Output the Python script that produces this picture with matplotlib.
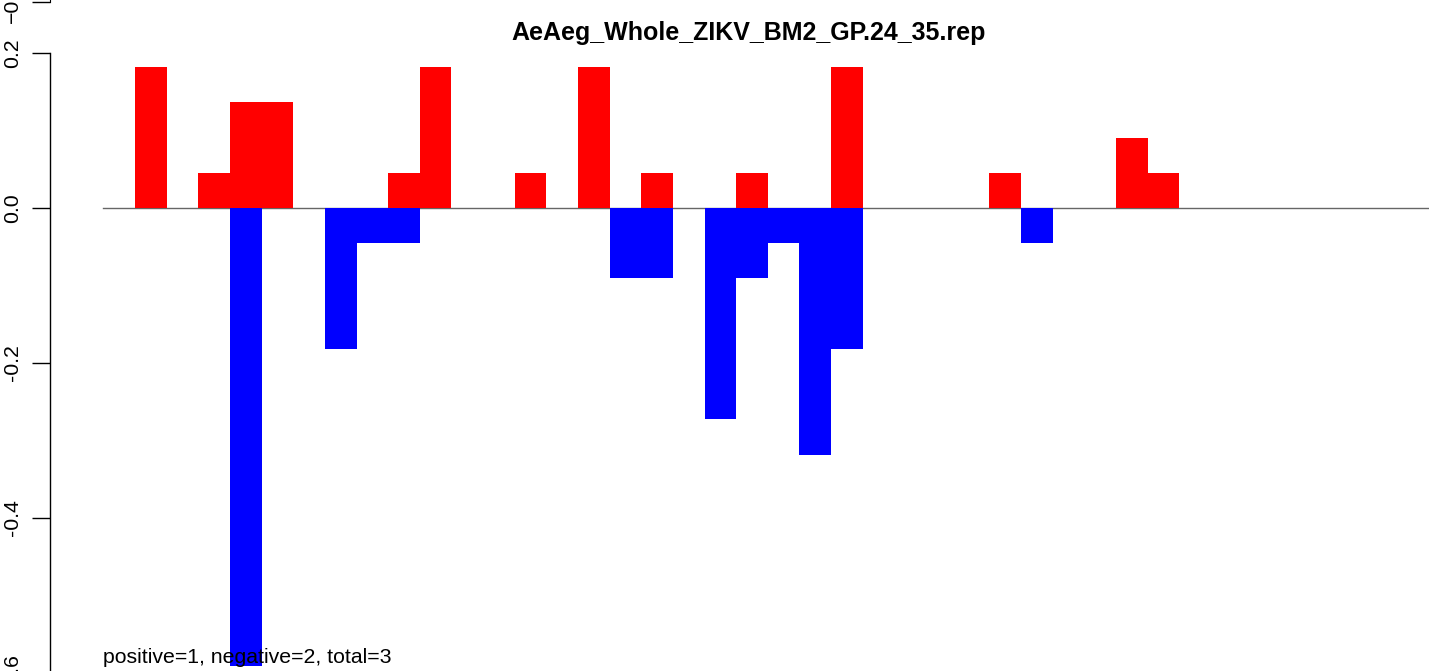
import numpy as np
import matplotlib
matplotlib.use('Agg')
import matplotlib.pyplot as plt

plt.rcParams['font.family'] = ['Liberation Sans', 'DejaVu Sans']

title = "AeAeg_Whole_ZIKV_BM2_GP.24_35.rep"
note = "positive=1, negative=2, total=3"

# one value per position, 42 positions
pos_vals = [0, 0.1818, 0, 0.0455, 0.1364, 0.1364, 0, 0, 0, 0.0455,
            0.1818, 0, 0, 0.0455, 0, 0.1818, 0, 0.0455, 0, 0,
            0.0455, 0, 0, 0.1818, 0, 0, 0, 0, 0.0455, 0,
            0, 0, 0.0909, 0.0455, 0, 0, 0, 0, 0, 0,
            0, 0]
neg_vals = [0, 0, 0, 0, -0.5909, 0, 0, -0.1818, -0.0455, -0.0455,
            0, 0, 0, 0, 0, 0, -0.0909, -0.0909, 0, -0.2727,
            -0.0909, -0.0455, -0.3182, -0.1818, 0, 0, 0, 0, 0, -0.0455,
            0, 0, 0, 0, 0, 0, 0, 0, 0, 0,
            0, 0]
yticks = [0.2, 0.0, -0.2, -0.4, -0.6]

W, H = 1429, 671
fig = plt.figure(figsize=(W / 100, H / 100), dpi=100)

# pixel layout
ax_left = 50
bar0 = 103.4
barw = 31.64
y0 = 208
ppu = 775.0
ax_bottom_px = 700   # axes extends below the picture (cropped panel)

ax = fig.add_axes([ax_left / W, (H - ax_bottom_px) / H, (W - ax_left) / W, ax_bottom_px / H])
ax.set_xlim(-(bar0 - ax_left) / barw, (W - bar0) / barw)
ax.set_ylim(-(ax_bottom_px - y0) / ppu, y0 / ppu)

n = len(pos_vals)
x = np.arange(n)
ax.plot([0, n], [0, 0], color='#666666', lw=1.0, zorder=1)
ax.bar(x, pos_vals, width=1.0, align='edge', color='#FF0000', linewidth=0, zorder=2)
ax.bar(x, neg_vals, width=1.0, align='edge', color='#0000FF', linewidth=0, zorder=2)

for s in ['top', 'right', 'bottom']:
    ax.spines[s].set_visible(False)
ax.spines['left'].set_bounds(-0.6, 0.2)
ax.spines['left'].set_linewidth(1.0)
ax.set_xticks([])
ax.set_yticks(yticks)
ax.set_yticklabels(['%.1f' % v for v in yticks], rotation=90, va='center')
ax.tick_params(axis='y', length=13, width=1.0, pad=7, labelsize=15.3)

ax.text(0, -(663 - y0) / ppu, note, fontsize=15.3, ha='left', va='baseline')
fig.text(749 / W, 1 - 33 / H, title, fontsize=18, fontweight='bold', ha='center', va='center')

# bottom edge of the panel above
ax2 = fig.add_axes([ax_left / W, (H - 2) / H, (W - ax_left) / W, 0.5])
ax2.set_ylim(-0.6, 0.2)
ax2.patch.set_visible(False)
for s in ['top', 'right', 'bottom']:
    ax2.spines[s].set_visible(False)
ax2.spines['left'].set_bounds(-0.6, 0.2)
ax2.set_xticks([])
ax2.set_yticks([-0.6])
ax2.set_yticklabels(['\u22120.6'], rotation=90, va='center')
ax2.tick_params(axis='y', length=13, width=1.0, pad=7, labelsize=15.3)

fig.savefig('out.png', dpi=100)
